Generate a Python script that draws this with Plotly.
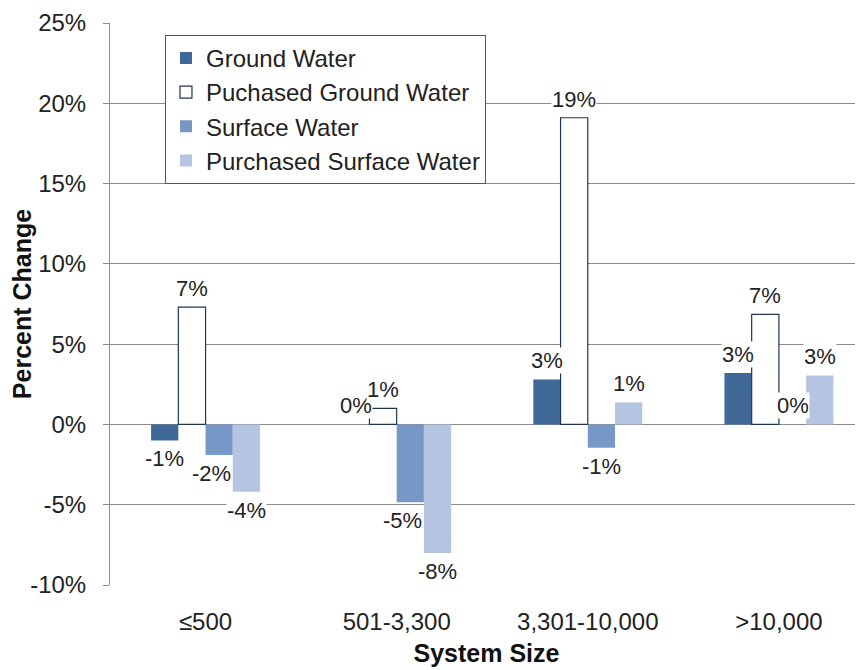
import plotly.graph_objects as go

# system size categories and percent change per source type
sizes = ["≤500", "501-3,300", "3,301-10,000", ">10,000"]
series = ["Ground Water", "Puchased Ground Water", "Surface Water", "Purchased Surface Water"]
ground = [-1.0, 0.0, 2.8, 3.2]
puch_ground = [7.3, 1.0, 19.1, 6.85]
surface = [-1.9, -4.85, -1.45, 0.0]
purch_surface = [-4.2, -8.0, 1.37, 3.05]

werte = [ground, puch_ground, surface, purch_surface]
farben = ["#3F6797", "#FFFFFF", "#7797C6", "#B5C4E0"]
linien = ["#3F6797", "#1F3550", "#7797C6", "#B5C4E0"]

FONT = "Liberation Sans, Arial, sans-serif"
bargap = 0.43
bw = (1 - bargap) / 4

fig = go.Figure()
for i in range(4):
    fig.add_trace(go.Bar(
        x=sizes, y=werte[i], name=series[i],
        marker=dict(color=farben[i], line=dict(color=linien[i], width=1.2 if i == 1 else 0)),
    ))

# data labels with white box so they cover the gridlines
for i in range(4):
    for k in range(4):
        v = werte[i][k]
        txt = f"{round(v):.0f}%"
        # surface labels under a deeper neighbour are nudged left, like in the original
        dx = -8 if (i == 2 and werte[3][k] < v < -1.5) else 0
        fig.add_annotation(
            x=k + (i - 1.5) * bw, y=v, xref="x", yref="y",
            text=txt, showarrow=False, xshift=dx,
            yanchor="bottom" if v >= 0 else "top",
            yshift=5 if v >= 0 else -5,
            bgcolor="white", borderpad=0,
            font=dict(family=FONT, size=22, color="#222"),
        )

# page body has an 8px margin, so the plot is shifted by that much
fig.update_layout(
    width=863, height=670,
    margin=dict(l=102, r=8, t=15, b=93),
    paper_bgcolor="white", plot_bgcolor="white",
    barmode="group", bargap=bargap, bargroupgap=0,
    font=dict(family=FONT, color="#222"),
    legend=dict(
        x=0.073, y=0.979, xanchor="left", yanchor="top",
        bgcolor="white", bordercolor="#555", borderwidth=1,
        font=dict(family=FONT, size=24, color="#222"),
        traceorder="normal",
    ),
    showlegend=True,
)
fig.update_yaxes(
    automargin=False,
    range=[-10, 25], tickvals=[-10, -5, 0, 5, 10, 15, 20, 25],
    ticktext=["-10%", "-5%", "0%", "5%", "10%", "15%", "20%", "25%"],
    tickfont=dict(family=FONT, size=24, color="#222"),
    showgrid=True, gridcolor="#8C8C8C", gridwidth=1,
    zeroline=True, zerolinecolor="#8C8C8C", zerolinewidth=1,
    showline=True, linecolor="#8C8C8C", linewidth=1,
    ticks="outside", ticklen=6, tickcolor="#8C8C8C", ticklabelstandoff=12,
    title=dict(text="<b>Percent Change</b>", font=dict(family=FONT, size=25, color="#111"), standoff=0),
)
fig.update_xaxes(
    automargin=False,
    range=[-0.5, 3.44],
    tickfont=dict(family=FONT, size=24, color="#222"),
    showgrid=False, showline=False, ticks="", ticklabelstandoff=20,
    title=dict(text="<b>System Size</b>", font=dict(family=FONT, size=25, color="#111"), standoff=10),
)

fig.write_html("out.html")
